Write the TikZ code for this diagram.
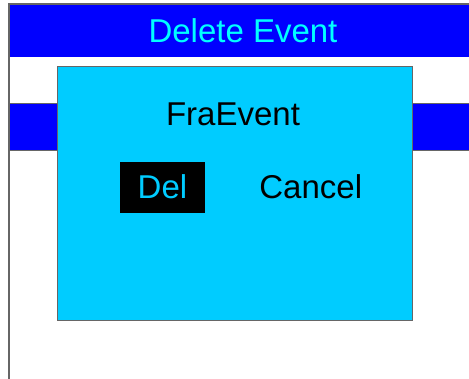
\documentclass[tikz,border=0pt]{standalone}
\usepackage{fontspec}
\setmainfont{Liberation Sans}
\usetikzlibrary{positioning}
\usepackage{xcolor}
\definecolor{bandblue}{HTML}{0000FF}
\definecolor{dlgcyan}{HTML}{00CCFF}
\definecolor{titlecyan}{HTML}{00FFFF}
\definecolor{framegray}{HTML}{666666}

\begin{document}
\begin{tikzpicture}[x=1pt,y=-1pt,
    band/.style={fill=bandblue, draw=framegray, line width=1pt},
    dialog/.style={rectangle, fill=dlgcyan, draw=framegray, line width=1pt, inner sep=0pt},
    uitext/.style={font=\fontsize{33}{36}\selectfont, inner sep=0pt},
    delbtn/.style={rectangle, fill=black, text=dlgcyan, inner sep=0pt,
        minimum width=85pt, minimum height=51pt, font=\fontsize{33}{36}\selectfont}]
        \useasboundingbox (0,0) rectangle (469,378);
        % Background window: title band, second band, left frame line
        \fill[bandblue] (9,4) rectangle (480,57);
        \draw[framegray, line width=1.2pt] (480,4) -- (9,4) -- (9,380);
        \draw[band] (9,103) rectangle (480,150);
        \node[uitext, text=titlecyan] (title) at (243,31) {Delete Event};

        % The dialog on top
        \node[dialog, minimum width=355pt, minimum height=254pt] (dlg) at (234.5,193) {};
        \node[uitext] (fra) at (233,114) {FraEvent};
        \node[delbtn] (del) at (162.5,187) {Del};
        \node[uitext, right=54pt of del] (cancel) {Cancel};
\end{tikzpicture}
\end{document}
